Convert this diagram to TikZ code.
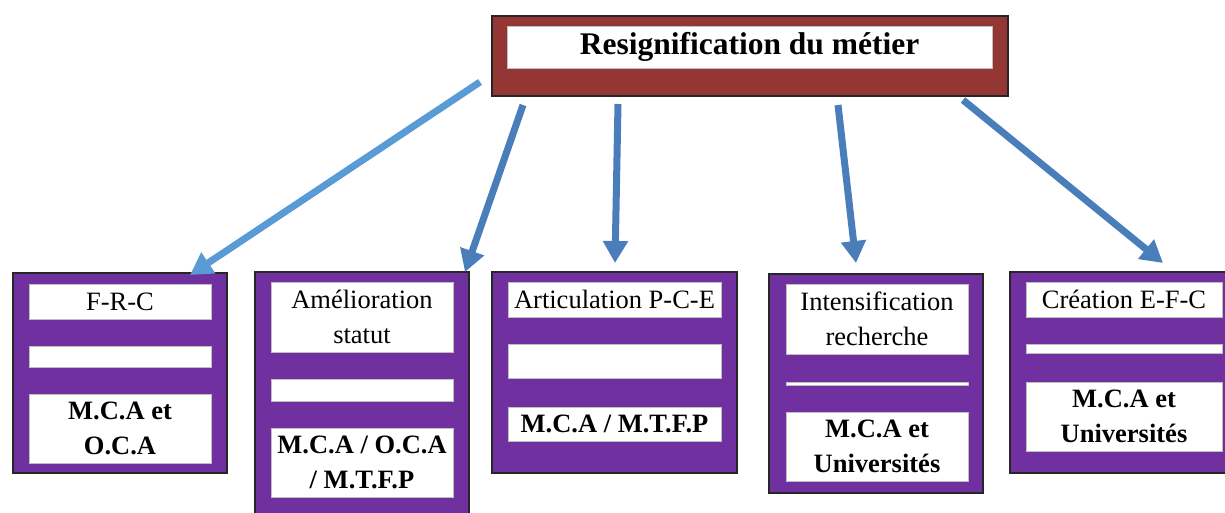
\documentclass[tikz,border=0pt]{standalone}
\usepackage{fontspec}
\setmainfont{Liberation Serif}
\usetikzlibrary{arrows.meta,calc}
\definecolor{topred}{HTML}{943634}
\definecolor{purp}{HTML}{7030A0}
\definecolor{lblue}{HTML}{5B9BD5}
\definecolor{dblue}{HTML}{4A7EBB}
\begin{document}
\begin{tikzpicture}[x=1pt,y=-1pt,
  outerbox/.style={draw=black!85,line width=1.3pt,anchor=north west,inner sep=0pt,outer sep=0pt},
  purpbox/.style={outerbox,fill=purp},
  redbox/.style={outerbox,fill=topred},
  wbox/.style={draw=black!25,line width=0.6pt,fill=white,anchor=north west,inner sep=0pt,outer sep=0pt,align=center,text=black,font=\fontsize{26.5}{35}\selectfont},
  wbold/.style={wbox,font=\fontsize{26.5}{35}\selectfont\bfseries},
  arr/.style={line width=7pt,-{Triangle[width=24pt,length=22pt]}}]
\useasboundingbox (0,0) rectangle (1225,512);
\begin{scope}
\clip (0,0) rectangle (1225,512);
% top box
\node[redbox,minimum width=516,minimum height=80] (top) at (492,16) {};
\node[wbold,minimum width=485,minimum height=42,font=\fontsize{31.5}{36}\selectfont\bfseries] (title) at (507,26) {Resignification du métier};
% box 1
\node[purpbox,minimum width=214,minimum height=200] (b1) at (13,273) {};
\node[wbox,minimum width=182,minimum height=35] (b1a) at (29,284) {F-R-C};
\node[wbox,minimum width=182,minimum height=21] (b1b) at (29,346) {};
\node[wbold,minimum width=182,minimum height=69] (b1c) at (29,394) {M.C.A et\\O.C.A};
% box 2
\node[purpbox,minimum width=214,minimum height=260] (b2) at (255,272) {};
\node[wbox,minimum width=182,minimum height=70] (b2a) at (271,282) {Amélioration\\statut};
\node[wbox,minimum width=182,minimum height=22] (b2b) at (271,379) {};
\node[wbold,minimum width=182,minimum height=69] (b2c) at (271,428) {M.C.A / O.C.A\\/ M.T.F.P};
% box 3
\node[purpbox,minimum width=245,minimum height=201] (b3) at (492,272) {};
\node[wbox,minimum width=213,minimum height=35] (b3a) at (508,282) {Articulation P-C-E};
\node[wbox,minimum width=213,minimum height=34] (b3b) at (508,344) {};
\node[wbold,minimum width=213,minimum height=34] (b3c) at (508,407) {M.C.A / M.T.F.P};
% box 4
\node[purpbox,minimum width=214,minimum height=219] (b4) at (769,274) {};
\node[wbox,minimum width=182,minimum height=70] (b4a) at (786,284) {Intensification\\recherche};
\node[wbox,minimum width=182,minimum height=3] (b4b) at (786,382) {};
\node[wbold,minimum width=182,minimum height=69] (b4c) at (786,412) {M.C.A et\\Universités};
% box 5
\node[purpbox,minimum width=230,minimum height=201] (b5) at (1010,272) {};
\node[wbox,minimum width=196,minimum height=35] (b5a) at (1026,282) {Création E-F-C};
\node[wbox,minimum width=196,minimum height=9] (b5b) at (1026,344) {};
\node[wbold,minimum width=196,minimum height=69] (b5c) at (1026,382) {M.C.A et\\Universités};
% arrow ends
\coordinate (s1) at ($(top.south west)+(-12,-14)$);
\coordinate (s2) at ($(top.south west)+(31,9)$);
\coordinate (s3) at ($(top.south west)+(126,8)$);
\coordinate (s4) at ($(top.south west)+(346,9)$);
\coordinate (s5) at ($(top.south west)+(471,4)$);
\coordinate (e1) at ($(b1.north west)+(177,2)$);
\coordinate (e2) at ($(b2.north west)+(210,0)$);
\coordinate (e3) at ($(b3.north west)+(123,-9)$);
\coordinate (e4) at ($(b4.north west)+(87,-11)$);
\coordinate (e5) at ($(b5.north west)+(153,-9)$);
\draw[arr,lblue] (s1) -- (e1);
\draw[arr,dblue] (s2) -- (e2);
\draw[arr,dblue] (s3) -- (e3);
\draw[arr,dblue] (s4) -- (e4);
\draw[arr,dblue] (s5) -- (e5);
\end{scope}
\end{tikzpicture}
\end{document}
